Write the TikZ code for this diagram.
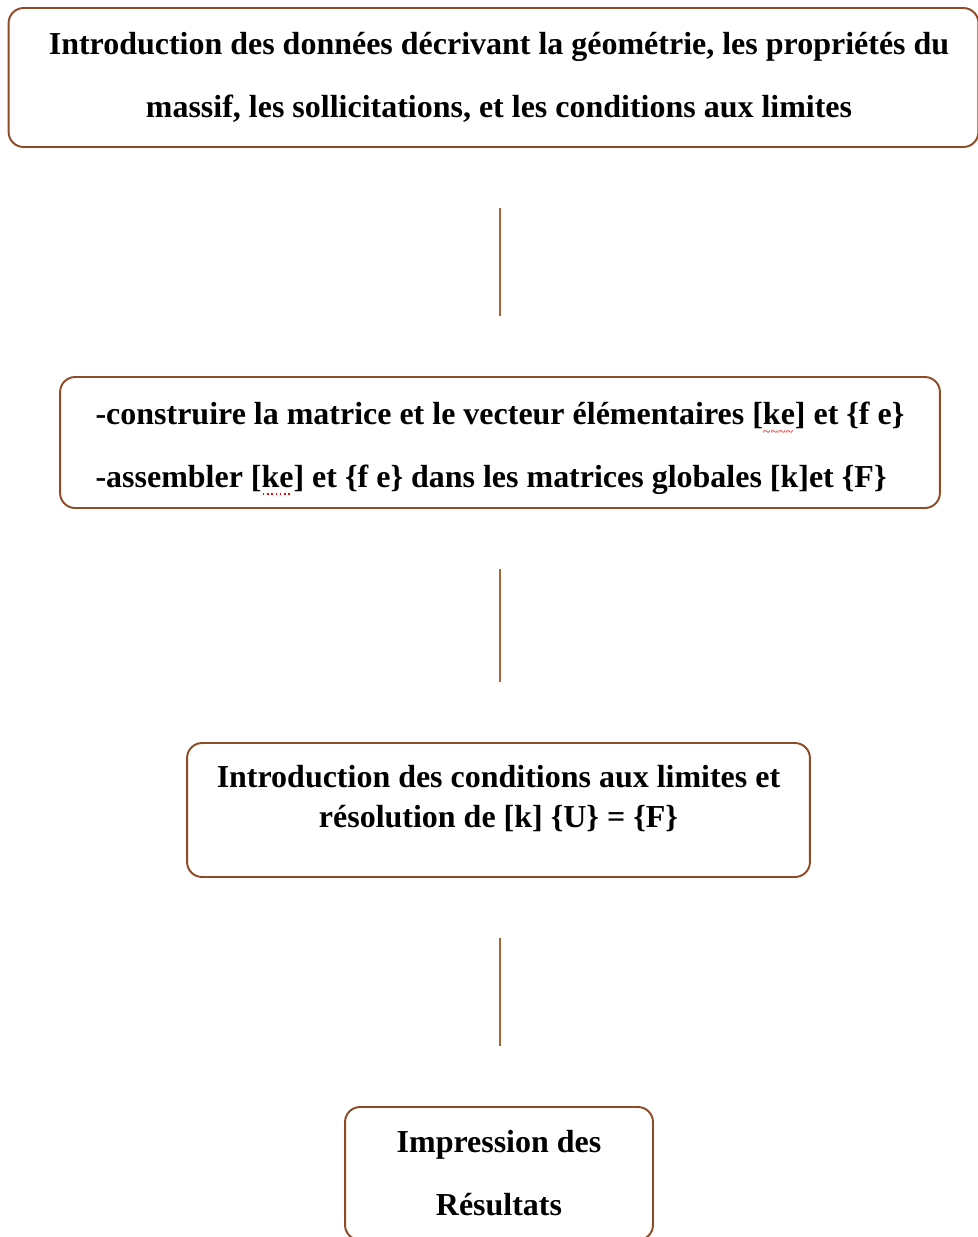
\documentclass[tikz,border=0pt]{standalone}
\usepackage{fontspec}
\setmainfont{Liberation Serif}
\usepackage{tikz}
\usetikzlibrary{calc}
\definecolor{frame}{HTML}{8E4B26}
\definecolor{wire}{HTML}{A8633A}
\newcommand{\boxfont}{\fontsize{18.2}{35.8}\selectfont\bfseries}
\newcommand{\tightfont}{\fontsize{18.2}{22.8}\selectfont\bfseries}
% word-processor spell marks
\newcommand{\spellwave}[1]{\setbox0\hbox{#1}\rlap{\copy0}\hbox to\wd0{{\color{red}\leaders\hbox{\lower6.5pt\hbox{\fontsize{8}{8}\selectfont\mdseries\textasciitilde}}\hfill}}}
\newcommand{\spelldots}[1]{\setbox0\hbox{#1}\rlap{\copy0}\hbox to\wd0{{\color{red}\leaders\hbox to 2.4pt{\hss\vrule width 0.8pt height -3.2pt depth 4pt\hss}\hfill}}}
\tikzset{
  stepbox/.style={draw=frame, line width=1.1pt, rounded corners=0.3cm, inner sep=0pt, font=\boxfont},
  steptext/.style={inner sep=0pt, font=\boxfont},
  link/.style={draw=wire, line width=0.7pt, shorten <=1.2cm, shorten >=1.2cm},
}

\begin{document}
\begin{tikzpicture}[x=0.02cm, y=-0.02cm]
  \useasboundingbox (0,0) rectangle (977,1237);

  \node[stepbox, minimum width=19.4cm, minimum height=2.78cm] (b1) at (493.5,77.5) {};
  \node[steptext, align=center] (t1) at ($(b1.center)+(5.5,0)$)
    {Introduction des données décrivant la géométrie, les propriétés du\\
     massif, les sollicitations, et les conditions aux limites};

  \node[stepbox, minimum width=17.6cm, minimum height=2.62cm] (b2) at (500,442.5) {};
  \node[steptext, align=left] (t2) at ($(b2.center)+(0,6)$)
    {-construire la matrice et le vecteur élémentaires [\spellwave{ke}] et \{f e\}\\
     -assembler [\spelldots{ke}] et \{f e\} dans les matrices globales [k]et \{F\}};

  \node[stepbox, minimum width=12.46cm, minimum height=2.68cm] (b3) at (498.5,810) {};
  \node[steptext, font=\tightfont, align=center] (t3) at ($(b3.center)+(0,-11)$)
    {Introduction des conditions aux limites et\\
     résolution de [k] \{U\} = \{F\}};

  \node[stepbox, minimum width=6.16cm, minimum height=2.66cm, align=center] (b4) at (499,1173.5)
    {Impression des\\ Résultats};

  \draw[link] (b2.north |- b1.south) -- (b2.north);
  \draw[link] (b2.south) -- (b3.north -| b2.south);
  \draw[link] (b3.south -| b2.south) -- (b4.north -| b2.south);
\end{tikzpicture}
\end{document}
